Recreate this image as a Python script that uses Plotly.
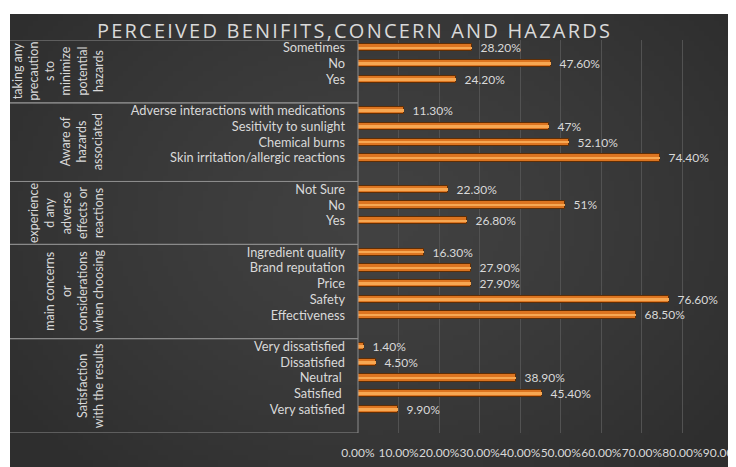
import base64
import struct
import zlib

import numpy as np
import plotly.graph_objects as go

# ---------------- data (top-to-bottom display order) ----------------
group_names = [
    "taking any<br>precaution<br>s to<br>minimize<br>potential<br>hazards",
    "Aware of<br>hazards<br>associated",
    "experience<br>d any<br>adverse<br>effects or<br>reactions",
    "main concerns<br>or<br>considerations<br>when choosing",
    "Satisfaction<br>with the results",
]
precaution_labels = ["Sometimes", "No", "Yes"]
precaution_values = [0.282, 0.476, 0.242]
precaution_text = ["28.20%", "47.60%", "24.20%"]

hazard_labels = ["Adverse interactions with medications", "Sesitivity to sunlight",
                 "Chemical burns", "Skin irritation/allergic reactions"]
hazard_values = [0.113, 0.47, 0.521, 0.744]
hazard_text = ["11.30%", "47%", "52.10%", "74.40%"]

adverse_labels = ["Not Sure", "No", "Yes"]
adverse_values = [0.223, 0.51, 0.268]
adverse_text = ["22.30%", "51%", "26.80%"]

concern_labels = ["Ingredient quality", "Brand reputation", "Price", "Safety", "Effectiveness"]
concern_values = [0.163, 0.279, 0.279, 0.766, 0.685]
concern_text = ["16.30%", "27.90%", "27.90%", "76.60%", "68.50%"]

satisfaction_labels = ["Very dissatisfied", "Dissatisfied", "Neutral\u00a0", "Satisfied\u00a0", "Very satisfied"]
satisfaction_values = [0.014, 0.045, 0.389, 0.454, 0.099]
satisfaction_text = ["1.40%", "4.50%", "38.90%", "45.40%", "9.90%"]

x_tick_values = [0, 0.1, 0.2, 0.3, 0.4, 0.5, 0.6, 0.7, 0.8, 0.9]

groups = [
    (precaution_labels, precaution_values, precaution_text),
    (hazard_labels, hazard_values, hazard_text),
    (adverse_labels, adverse_values, adverse_text),
    (concern_labels, concern_values, concern_text),
    (satisfaction_labels, satisfaction_values, satisfaction_text),
]

# ---------------- build rows (each group followed by one blank row) ----------------
ys, xs, texts, ticktext = [], [], [], []
bounds = []  # (start, end) row positions of each group incl. blank row
pos = 0
for labels, vals, txt in groups:
    start = pos
    for l, v, t in zip(labels, vals, txt):
        ys.append(pos); xs.append(v); texts.append(t); ticktext.append(l)
        pos += 1
    pos += 1  # blank row
    bounds.append((start - 0.5, pos - 0.5))
n_rows = pos

TXT = "#d9d9d9"
FONT = "Lato, Open Sans, sans-serif"

fig = go.Figure()
# main bar body (darker orange rim)
fig.add_trace(go.Bar(
    x=xs, y=ys, orientation="h", width=0.46,
    marker=dict(color="#dc7420", line=dict(color="#5e2e06", width=1)),
    text=texts, texttemplate="\u2002%{text}", textposition="outside",
    cliponaxis=False, constraintext="none",
    textfont=dict(color=TXT, size=12, family=FONT),
    hoverinfo="skip",
))
# bright highlight stripe in the middle of each bar
fig.add_trace(go.Bar(
    x=xs, y=ys, orientation="h", width=0.16,
    marker=dict(color="#f7a752", line=dict(width=0)),
    hoverinfo="skip",
))

# page body has an 8px margin: figure covers window pixels 8..736 x 8..467
OFF = 8
W, H = 736 - OFF, 467 - OFF
# plot area in window pixels: x 358..723, y 40..433
L, R, T, B = 358 - OFF, 736 - 723, 40 - OFF, 467 - 433
pw, ph = W - L - R, H - T - B
def px_x(p):  # window pixel -> paper x
    return (p - OFF - L) / pw
def px_y(p):  # window pixel -> paper y
    return (H - B - (p - OFF)) / ph

# radial-gradient background panel image (PNG built in memory)
def gradient_png(w, h):
    yy, xx = np.mgrid[0:h, 0:w]
    d = np.sqrt(((xx - w * 0.5) / (w * 0.62)) ** 2 + ((yy - h * 0.45) / (h * 0.75)) ** 2)
    d = np.clip(d, 0, 1)
    v = (66 - 20 * d ** 1.3).astype(np.uint8)
    raw = b"".join(b"\x00" + bytes(np.repeat(row, 3)) for row in v)
    def chunk(tag, data):
        c = struct.pack(">I", len(data)) + tag + data
        return c + struct.pack(">I", zlib.crc32(tag + data) & 0xFFFFFFFF)
    png = (b"\x89PNG\r\n\x1a\n" + chunk(b"IHDR", struct.pack(">IIBBBBB", w, h, 8, 2, 0, 0, 0))
           + chunk(b"IDAT", zlib.compress(raw, 9)) + chunk(b"IEND", b""))
    return "data:image/png;base64," + base64.b64encode(png).decode()

panel_x0, panel_x1 = px_x(10), px_x(736)
panel_y0, panel_y1 = px_y(467), px_y(14)
fig.add_layout_image(dict(
    source=gradient_png(145, 91), xref="paper", yref="paper",
    x=panel_x0, y=panel_y1, sizex=panel_x1 - panel_x0, sizey=panel_y1 - panel_y0,
    xanchor="left", yanchor="top", sizing="stretch", layer="below",
))

shapes = []
# group separator lines in the category area
LC = "#8c8c8c"
for s, e in bounds:
    for yv in (s, e):
        shapes.append(dict(type="line", xref="paper", yref="y", x0=px_x(10), x1=0,
                           y0=yv, y1=yv, line=dict(color=LC, width=1)))
# axis line
shapes.append(dict(type="line", xref="paper", yref="y", x0=0, x1=0,
                   y0=-0.5, y1=n_rows - 0.5, line=dict(color=LC, width=1)))

annotations = []
for name, (s, e) in zip(group_names, bounds):
    annotations.append(dict(
        text=name, textangle=-90, showarrow=False,
        xref="paper", yref="y", x=px_x(108), y=(s + e) / 2,
        xanchor="right", yanchor="middle", align="center",
        font=dict(color=TXT, size=12.5, family=FONT),
    ))
annotations.append(dict(
    text='<span style="letter-spacing:2.2px">PERCEIVED BENIFITS,CONCERN AND HAZARDS</span>',
    showarrow=False,
    xref="paper", yref="paper", x=px_x(354), y=px_y(30.5),
    xanchor="center", yanchor="middle",
    font=dict(color=TXT, size=20, family="Open Sans, sans-serif"),
))

fig.update_layout(
    width=W, height=H,
    margin=dict(l=L, r=R, t=T, b=B, pad=0, autoexpand=False),
    paper_bgcolor="white", plot_bgcolor="rgba(0,0,0,0)",
    showlegend=False, bargap=0, barmode="overlay",
    shapes=shapes, annotations=annotations,
    xaxis=dict(range=[0, 0.9], tickvals=x_tick_values, tickformat=".2%",
               showgrid=True, gridcolor="#525252", gridwidth=1, zeroline=False,
               showline=False, ticks="", ticklabelstandoff=11, automargin=False,
               tickangle=0, ticklabeloverflow="allow",
               tickfont=dict(color=TXT, size=12, family=FONT)),
    yaxis=dict(range=[n_rows - 0.5, -0.5], tickvals=ys, ticktext=ticktext,
               showgrid=False, zeroline=False, showline=False, ticks="",
               ticklabelstandoff=12, automargin=False,
               tickfont=dict(color=TXT, size=12.8, family=FONT)),
)

fig.write_html("out.html")
